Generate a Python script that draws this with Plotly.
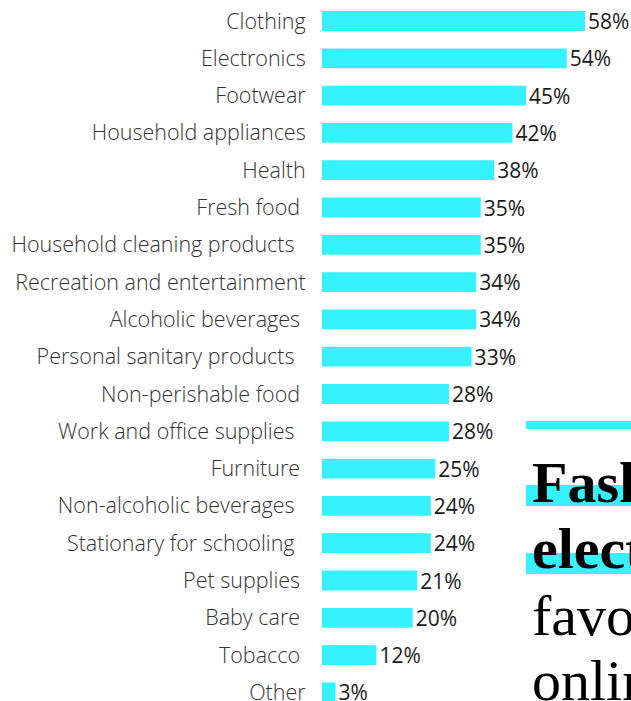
import plotly.graph_objects as go

categories = ["Clothing", "Electronics", "Footwear", "Household appliances", "Health",
              "Fresh food", "Household cleaning products", "Recreation and entertainment",
              "Alcoholic beverages", "Personal sanitary products", "Non-perishable food",
              "Work and office supplies", "Furniture", "Non-alcoholic beverages",
              "Stationary for schooling", "Pet supplies", "Baby care", "Tobacco", "Other"]
values = [58, 54, 45, 42, 38, 35, 35, 34, 34, 33, 28, 28, 25, 24, 24, 21, 20, 12, 3]
value_labels = [f"{v}%" for v in values]
# trailing spaces as in the source labels
label_pad = [0, 0, 0, 0, 0, 1, 2, 0, 1, 2, 1, 2, 1, 2, 2, 1, 1, 1, 0]

heading_lines = ["Fashion and", "electronics", "favourites", "online"]

W = 631
K = 706 / 701          # vertical compensation of the capture
H = round(701 * K)
L = 322
PW = W - L
CYAN = "#36F1FF"

def px_x(x):  # reference pixel -> paper
    return (x - L) / PW

def px_y(y):
    return 1 - (y * K) / H

# rows: Clothing centre at y=21, spacing 37.3 px (reference pixels)
row0 = 21 * K
sp = 37.3 * K
ytop = -row0 / sp
ybot = (H - row0) / sp

tick_text = [c + "\u00a0" * p for c, p in zip(categories, label_pad)]

fig = go.Figure(go.Bar(
    x=values, y=categories, orientation="h",
    marker=dict(color=CYAN, line=dict(width=0)),
    width=0.53,
    text=value_labels, textposition="outside",
    textfont=dict(family="Open Sans", size=21, color="#1a1a1a"),
    cliponaxis=False, constraintext="none",
    hoverinfo="skip",
))

fig.update_layout(
    width=W, height=H,
    margin=dict(l=L, r=0, t=0, b=0, pad=0),
    paper_bgcolor="white", plot_bgcolor="white",
    showlegend=False,
    xaxis=dict(range=[0, PW / 4.534], visible=False, fixedrange=True),
    yaxis=dict(
        categoryorder="array", categoryarray=categories,
        tickmode="array", tickvals=categories, ticktext=tick_text,
        range=[ybot, ytop],
        showgrid=False, zeroline=False, showline=False,
        ticks="outside", ticklen=11, tickcolor="rgba(0,0,0,0)",
        tickfont=dict(family="Open Sans", size=21.5, color="#333333", weight=300),
    ),
)

# decorative cyan rule and highlights behind heading
shapes = [(421, 429), (485, 506), (553, 574)]
for y0, y1 in shapes:
    fig.add_shape(type="rect", xref="paper", yref="paper",
                  x0=px_x(526), x1=px_x(720), y0=px_y(y1), y1=px_y(y0),
                  fillcolor=CYAN, line=dict(width=0), layer="above")

baselines = [499, 565, 632, 697]
weights = [900, 900, 400, 400]
for txt, bl, wt in zip(heading_lines, baselines, weights):
    fig.add_annotation(
        text=txt, xref="paper", yref="paper",
        x=px_x(530), y=px_y(bl - 17), xanchor="left", yanchor="middle",
        showarrow=False,
        font=dict(family="Liberation Serif", size=58, color="#000000", weight=wt),
    )

fig.write_html(
    "out.html",
    config={"displayModeBar": False},
    post_script="document.body.style.margin='0';document.body.style.overflow='hidden';",
)
